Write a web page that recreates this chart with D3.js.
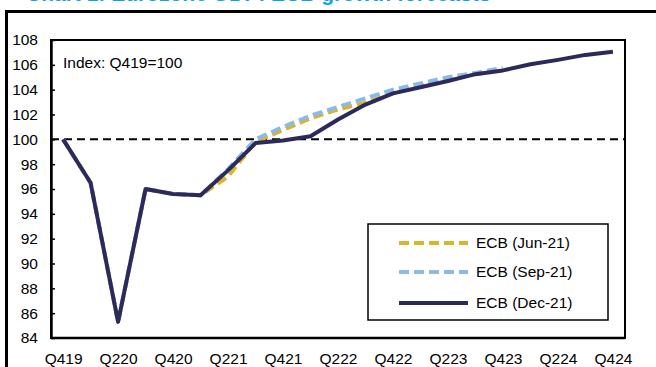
<!DOCTYPE html>
<html>
<head>
<meta charset="utf-8">
<script src="https://cdn.jsdelivr.net/npm/d3@7"></script>
<style>
  html, body { margin: 0; padding: 0; background: #fff; }
  svg { display: block; }
  text { font-family: "Liberation Sans", Arial, sans-serif; fill: #000; }
</style>
</head>
<body>
<svg id="chart" width="656" height="367"></svg>
<script>
// Quarterly categories, Q4 2019 to Q4 2024
const quarters = ["Q419","Q120","Q220","Q320","Q420","Q121","Q221","Q321","Q421",
  "Q122","Q222","Q322","Q422","Q123","Q223","Q323","Q423","Q124","Q224","Q324","Q424"];
const tickLabels = ["Q419","Q220","Q420","Q221","Q421","Q222","Q422","Q223","Q423","Q224","Q424"];
const yTicks = [84,86,88,90,92,94,96,98,100,102,104,106,108];

// GDP level index (Q419 = 100) by projection vintage
const ecbJun21 = [100,96.5,85.3,96.0,95.6,95.5,97.0,99.8,100.75,101.7,102.4,102.95,103.7,104.3,104.8,105.25,105.6];
const ecbSep21 = [100,96.5,85.3,96.0,95.6,95.5,97.6,100.0,101.0,101.9,102.6,103.3,104.0,104.5,105.0,105.35,105.75];
const ecbDec21 = [100,96.5,85.3,96.0,95.6,95.5,97.5,99.7,99.9,100.25,101.6,102.8,103.7,104.2,104.7,105.25,105.55,106.05,106.4,106.8,107.05];

const series = [
  { name: "ECB (Jun-21)", values: ecbJun21, color: "#dbb42a", dash: "10,5" },
  { name: "ECB (Sep-21)", values: ecbSep21, color: "#8cb9e6", dash: "10,5" },
  { name: "ECB (Dec-21)", values: ecbDec21, color: "#2c2a5c", dash: null }
];

const svg = d3.select("#chart");
const plot = { left: 51, right: 625, top: 40, bottom: 338 };

// Title strip (runs off the top edge) and outer frame
svg.append("text")
  .attr("x", 26).attr("y", 0.5)
  .style("font-size", "21px").style("font-weight", "bold").style("fill", "#09a4e3")
  .text("Chart 1: Eurozone GDP: ECB growth forecasts");
svg.append("rect")
  .attr("x", 6.5).attr("y", 11.5).attr("width", 720).attr("height", 420)
  .attr("fill", "none").attr("stroke", "#000").attr("stroke-width", 3);

const x = d3.scalePoint().domain(quarters).range([plot.left, plot.right]).padding(0.44);
const y = d3.scaleLinear().domain([84, 108]).range([plot.bottom, plot.top]);

// Plot frame
svg.append("rect")
  .attr("x", plot.left).attr("y", plot.top)
  .attr("width", plot.right - plot.left).attr("height", plot.bottom - plot.top)
  .attr("fill", "none").attr("stroke", "#000").attr("stroke-width", 2);

// Y axis
const yAxis = svg.append("g")
  .attr("transform", `translate(${plot.left},0)`)
  .call(d3.axisLeft(y).tickValues(yTicks).tickSizeInner(-4).tickSizeOuter(0).tickPadding(13));
yAxis.select(".domain").attr("stroke", "#000").attr("stroke-width", 2.5);
yAxis.selectAll(".tick line").attr("stroke", "#000").attr("stroke-width", 1.5);
yAxis.selectAll(".tick text").style("font-size", "15.5px")
  .style("font-family", "'Liberation Sans', Arial, sans-serif").attr("fill", "#000");

// X axis
const xAxis = svg.append("g")
  .attr("transform", `translate(0,${plot.bottom})`)
  .call(d3.axisBottom(x).tickValues(tickLabels).tickSize(0).tickPadding(15));
xAxis.select(".domain").attr("stroke", "#000").attr("stroke-width", 2.5)
  .attr("d", `M${plot.left},0H${plot.right}`);
xAxis.selectAll(".tick text").style("font-size", "15.5px")
  .style("font-family", "'Liberation Sans', Arial, sans-serif").attr("fill", "#000");

// Reference line at 100
svg.append("line")
  .attr("x1", plot.left).attr("x2", plot.right)
  .attr("y1", y(100)).attr("y2", y(100))
  .attr("stroke", "#000").attr("stroke-width", 2).attr("stroke-dasharray", "8,5");

// Series lines
const line = d3.line().x((d, i) => x(quarters[i])).y(d => y(d));
series.forEach(s => {
  svg.append("path")
    .datum(s.values)
    .attr("d", line)
    .attr("fill", "none")
    .attr("stroke", s.color)
    .attr("stroke-width", 4)
    .attr("stroke-linejoin", "round")
    .attr("stroke-dasharray", s.dash);
});

// Base note
svg.append("text")
  .attr("x", 63).attr("y", 68)
  .style("font-size", "15.5px")
  .text("Index: Q419=100");

// Legend
const legend = svg.append("g");
legend.append("rect")
  .attr("x", 368).attr("y", 224).attr("width", 240).attr("height", 96)
  .attr("fill", "#fff").attr("stroke", "#000").attr("stroke-width", 1.5);
const rowY = [243, 272, 303];
series.forEach((s, i) => {
  legend.append("line")
    .attr("x1", 399).attr("x2", 468)
    .attr("y1", rowY[i]).attr("y2", rowY[i])
    .attr("stroke", s.color).attr("stroke-width", 4)
    .attr("stroke-dasharray", s.dash);
  legend.append("text")
    .attr("x", 476).attr("y", rowY[i]).attr("dy", "0.35em")
    .style("font-size", "15.5px")
    .text(s.name);
});
</script>
</body>
</html>
